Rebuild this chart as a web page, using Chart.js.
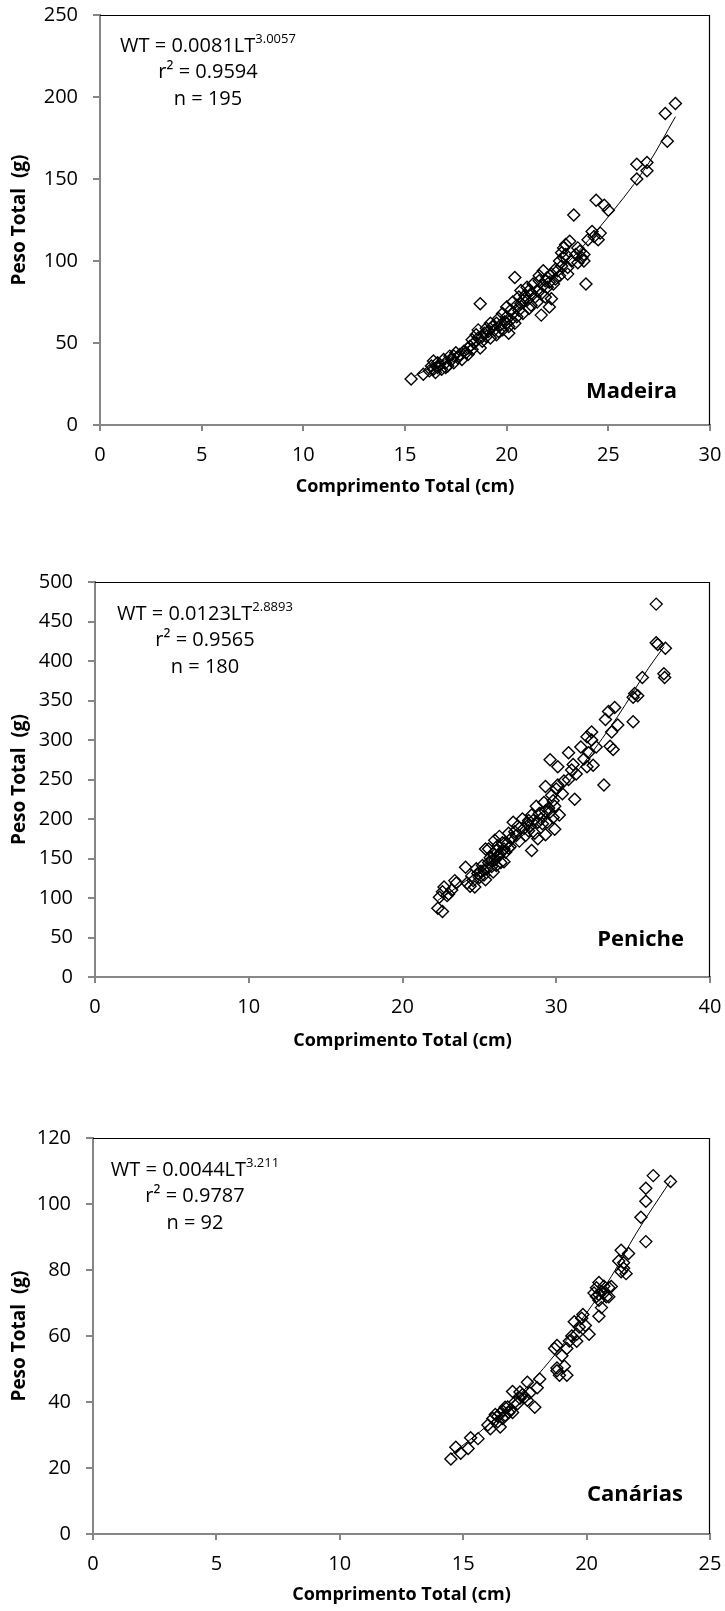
<!DOCTYPE html>
<html>
<head>
<meta charset="utf-8">
<script src="https://cdn.jsdelivr.net/npm/chart.js@4.4.1/dist/chart.umd.min.js"></script>
<style>
  html, body { margin: 0; padding: 0; background: #fff; }
  #wrap { position: relative; width: 725px; height: 1611px; }
  canvas { position: absolute; left: 0; }
</style>
</head>
<body>
<div id="wrap">
  <canvas id="c1" width="725" height="510" style="top:0px"></canvas>
  <canvas id="c2" width="725" height="556" style="top:510px"></canvas>
  <canvas id="c3" width="725" height="545" style="top:1066px"></canvas>
</div>
<script>
/* Dados: [comprimento total (cm), peso total (g)] */
const madeiraPoints = [
  [15.3,28],[15.9,31],[16.2,33],[16.3,36],[16.4,39],[16.4,34],[16.5,32],[16.6,35],[16.7,37],[16.8,34],
  [16.9,40],[17.0,38],[17.1,36],[17.2,42],[17.3,40],[17.4,38],[17.5,44],[17.6,41],[17.7,43],[17.8,40],
  [17.9,45],[18.0,44],[18.1,47],[18.2,48],[18.3,46],[18.3,52],[18.4,50],[18.5,55],[18.6,53],[18.6,58],
  [18.7,47],[18.7,74],[18.8,51],[18.9,56],[19.0,54],[19.0,59],[19.1,57],[19.2,53],[19.3,60],[19.4,58],
  [19.5,62],[19.5,55],[19.6,65],[19.7,61],[19.8,58],[19.8,68],[19.9,63],[20.0,66],[20.0,72],[20.1,56],
  [20.1,60],[20.2,70],[20.2,64],[20.3,75],[20.3,68],[20.4,90],[20.4,62],[20.5,73],[20.5,66],[20.6,78],
  [20.6,70],[20.7,82],[20.7,74],[20.8,68],[20.9,79],[21.0,76],[21.0,84],[21.1,71],[21.2,80],[21.2,73],
  [21.3,86],[21.4,78],[21.5,82],[21.5,75],[21.6,88],[21.6,91],[21.7,67],[21.7,80],[21.8,94],[21.8,85],
  [21.9,78],[22.0,90],[22.0,84],[22.1,87],[22.1,72],[22.2,77],[22.2,92],[22.3,86],[22.4,89],[22.5,94],
  [22.6,100],[22.6,91],[22.7,105],[22.7,97],[22.8,108],[22.8,102],[22.9,110],[23.0,96],[23.0,92],[23.1,112],
  [23.2,100],[23.3,128],[23.4,104],[23.5,99],[23.6,106],[23.7,102],[23.8,100],[23.9,86],[24.0,113],[24.2,118],
  [24.3,115],[24.4,137],[24.5,113],[24.6,117],[24.8,134],[25.0,131],[26.4,159],[26.4,150],[26.9,160],[26.9,155],
  [27.8,190],[27.9,173],[28.3,196],
  [16.6,38],[17.0,35],[17.4,42],[18.1,43],[18.8,54],[19.2,62],[19.6,57],[20.0,62],[20.8,76],[21.1,82],
  [21.9,88],[22.4,95],[22.9,104],[23.5,108],[23.8,104]
];
const madeiraTrend = [[15.5,30],[17,40],[19,55],[21,76],[23,99],[25,127],[27,160],[28.3,188]];

const penichePoints = [
  [22.3,87],[22.6,83],[22.4,101],[22.6,108],[22.7,114],[22.9,103],[23.2,110],[23.0,105],[23.5,119],[23.4,122],
  [24.1,139],[24.2,119],[24.4,115],[24.5,128],[24.6,122],[24.7,114],[24.8,137],[24.9,131],[25.0,126],[25.1,134],
  [25.2,141],[25.3,129],[25.4,123],[25.4,162],[25.5,137],[25.6,145],[25.6,162],[25.7,151],[25.8,140],[25.9,133],
  [25.9,156],[26.0,173],[26.0,148],[26.1,160],[26.2,166],[26.2,152],[26.3,155],[26.3,178],[26.4,145],[26.5,170],
  [26.6,146],[26.6,162],[26.7,158],[26.8,169],[26.9,182],[27.0,165],[27.1,176],[27.2,196],[27.3,184],[27.5,191],
  [27.6,172],[27.8,200],[27.9,188],[28.0,179],[28.1,194],[28.2,185],[28.3,191],[28.4,160],[28.4,205],[28.5,198],
  [28.6,182],[28.7,216],[28.8,175],[28.9,207],[29.0,200],[29.1,194],[29.2,221],[29.3,180],[29.3,210],[29.3,241],
  [29.4,196],[29.6,209],[29.6,275],[29.7,230],[29.8,223],[29.9,187],[29.9,216],[30.0,238],[30.1,243],[30.1,266],
  [30.2,205],[30.4,232],[30.5,248],[30.8,250],[30.8,284],[31.0,262],[31.1,269],[31.2,225],[31.3,257],[31.6,291],
  [31.8,276],[32.0,266],[32.0,304],[32.1,284],[32.3,300],[32.3,310],[32.4,268],[32.6,291],[33.1,243],[33.2,326],
  [33.4,336],[33.5,292],[33.6,310],[33.7,288],[33.8,341],[34.0,319],[35.0,323],[35.0,354],[35.1,359],[35.3,356],
  [35.6,379],[36.5,472],[36.5,423],[36.6,421],[37.0,384],[37.05,379],[37.1,416],
  [25.3,135],[25.8,147],[26.1,141],[26.4,158],[26.9,163],[27.4,179],[28.2,198],[28.8,196],[29.5,214],[29.8,202]
];
const penicheTrend = [[22.3,97],[24,120],[26,150],[28,186],[30,229],[32,276],[34,330],[36,391],[37,418]];

const canariasPoints = [
  [14.5,22.7],[14.7,26.3],[14.9,24.5],[15.2,25.9],[15.3,29.2],[15.6,28.9],[16.0,33],[16.1,31.9],[16.3,36.2],[16.4,35.7],
  [16.4,34],[16.5,32.4],[16.6,37.3],[16.7,38.4],[16.85,36.8],[17.0,43.2],[17.0,36.8],[17.1,40],[17.3,41.1],[17.4,42.2],
  [17.6,46],[17.6,40.5],[17.7,42.7],[17.9,38.4],[18.0,44.3],[18.1,47],[18.7,56.2],[18.8,57.1],[18.8,50.3],[18.9,48.1],
  [19.1,50.8],[19.0,54],[19.2,56.2],[19.2,48.1],[19.5,64.3],[19.6,60.5],[19.6,58.4],[19.7,62.7],[19.8,65.4],[19.85,66.5],
  [19.95,63.2],[20.1,60.5],[20.3,73],[20.4,74.6],[20.5,76.2],[20.5,70.8],[20.5,66],[20.6,68.6],[20.7,75.1],[20.8,71.9],
  [20.9,74.6],[20.9,71.9],[21.3,82.7],[21.4,86],[21.4,79.5],[21.5,82.2],[21.6,78.9],[21.7,85],[22.2,96],[22.4,100.8],
  [22.4,104.8],[22.7,108.6],[22.4,88.6],[23.4,106.8],
  [16.5,36.5],[16.6,35],[16.7,36],[16.8,38.5],[16.9,37.5],[17.2,39.5],[17.5,41.5],[17.3,43],[20.4,72],[20.6,73.5],
  [20.5,72.5],[20.7,73],[21.0,75],[19.4,60],[19.3,58.5],[18.8,49.5],[16.2,35],[21.5,80.5]
];
const canariasTrend = [[14.5,24],[16,33],[17,40],[18,48],[19,57],[20,67],[21,78],[22,91],[23.4,107]];

const FONT = "'Open Sans', 'Noto Sans', sans-serif";
const AXIS_GREY = '#868686';

/* Moldura preta + textos da equação e do local */
const framePlugin = {
  id: 'frame',
  beforeDatasetsDraw(chart, args, opts) {
    const a = chart.chartArea;
    const ctx = chart.ctx;
    ctx.save();
    ctx.strokeStyle = '#000';
    ctx.lineWidth = 1.2;
    ctx.beginPath();
    ctx.moveTo(a.left, a.top + 0.5);
    ctx.lineTo(a.right - 0.5, a.top + 0.5);
    ctx.lineTo(a.right - 0.5, a.bottom);
    ctx.stroke();
    ctx.restore();
  },
  afterDraw(chart, args, opts) {
    const a = chart.chartArea;
    const ctx = chart.ctx;
    ctx.save();
    ctx.fillStyle = '#000';
    ctx.textBaseline = 'middle';

    // linha 1: WT = a LT^b, com expoente
    const cx = a.left + opts.textDX;
    const y0 = a.top + opts.textDY;
    ctx.font = '20px ' + FONT;
    const wMain = ctx.measureText(opts.eq).width;
    ctx.font = '13px ' + FONT;
    const wSup = ctx.measureText(opts.exp).width;
    const x0 = cx - (wMain + wSup) / 2;
    ctx.textAlign = 'left';
    ctx.font = '20px ' + FONT;
    ctx.fillText(opts.eq, x0, y0);
    ctx.font = '13px ' + FONT;
    ctx.fillText(opts.exp, x0 + wMain, y0 - 7);

    ctx.textAlign = 'center';
    ctx.font = '20px ' + FONT;
    ctx.fillText(opts.r2, cx, y0 + 26);
    ctx.fillText(opts.n, cx, y0 + 53);

    // nome do local
    ctx.textAlign = 'right';
    ctx.font = 'bold 22px ' + FONT;
    ctx.fillText(opts.place, a.right - opts.placeDX, a.bottom - opts.placeDY);
    ctx.restore();
  }
};

/* sem margem automática das escalas: a área do gráfico fica onde a pomos */
function noScalePadding(scale) {
  scale.paddingTop = 0;
  scale.paddingBottom = 0;
  scale.paddingLeft = 0;
  scale.paddingRight = 0;
}

function makeChart(id, points, trend, cfg) {
  const ctx = document.getElementById(id).getContext('2d');
  return new Chart(ctx, {
    type: 'scatter',
    data: {
      datasets: [
        {
          data: points.map(p => ({ x: p[0], y: p[1] })),
          pointStyle: 'rectRot',
          pointRadius: 6,
          borderWidth: 1.4,
          borderColor: '#000',
          backgroundColor: 'rgba(0,0,0,0)'
        },
        {
          data: trend.map(p => ({ x: p[0], y: p[1] })),
          showLine: true,
          pointRadius: 0,
          borderWidth: 1,
          borderColor: '#000',
          cubicInterpolationMode: 'monotone'
        }
      ]
    },
    options: {
      responsive: false,
      animation: false,
      events: [],
      layout: { autoPadding: false, padding: { top: cfg.top, right: 15, left: 0, bottom: 0 } },
      plugins: {
        legend: { display: false },
        tooltip: { enabled: false },
        frame: cfg.text
      },
      scales: {
        x: {
          type: 'linear',
          min: 0, max: cfg.xMax,
          afterFit(scale) { scale.height = cfg.xh; noScalePadding(scale); },
          ticks: { stepSize: cfg.xStep, color: '#000', padding: 12, font: { family: FONT, size: 20 } },
          grid: { drawOnChartArea: false, drawTicks: true, tickLength: 6, color: AXIS_GREY, lineWidth: 2 },
          border: { color: AXIS_GREY, width: 2 },
          title: {
            display: true, text: 'Comprimento Total (cm)', color: '#000',
            font: { family: FONT, size: 18, weight: 'bold' },
            padding: { top: 0, bottom: cfg.titlePad }
          }
        },
        y: {
          type: 'linear',
          min: 0, max: cfg.yMax,
          afterFit(scale) { scale.width = cfg.left; noScalePadding(scale); },
          ticks: { stepSize: cfg.yStep, color: '#000', padding: 15, font: { family: FONT, size: 20 } },
          grid: { drawOnChartArea: false, drawTicks: true, tickLength: 7, color: AXIS_GREY, lineWidth: 2 },
          border: { color: AXIS_GREY, width: 2 },
          title: {
            display: true, text: 'Peso Total  (g)', color: '#000',
            font: { family: FONT, size: 19, weight: 'bold' },
            padding: { top: 8, bottom: 0 }
          }
        }
      }
    },
    plugins: [framePlugin]
  });
}

makeChart('c1', madeiraPoints, madeiraTrend, {
  top: 15, left: 100, xh: 85, titlePad: 12,
  xMax: 30, xStep: 5, yMax: 250, yStep: 50,
  text: { eq: 'WT = 0.0081LT', exp: '3.0057', r2: 'r² = 0.9594', n: 'n = 195',
          textDX: 108, textDY: 31, place: 'Madeira', placeDX: 33, placeDY: 33 }
});

makeChart('c2', penichePoints, penicheTrend, {
  top: 72, left: 95, xh: 89, titlePad: 14,
  xMax: 40, xStep: 10, yMax: 500, yStep: 50,
  text: { eq: 'WT = 0.0123LT', exp: '2.8893', r2: 'r² = 0.9565', n: 'n = 180',
          textDX: 110, textDY: 32, place: 'Peniche', placeDX: 26, placeDY: 37 }
});

makeChart('c3', canariasPoints, canariasTrend, {
  top: 72, left: 93, xh: 77, titlePad: 5,
  xMax: 25, xStep: 5, yMax: 120, yStep: 20,
  text: { eq: 'WT = 0.0044LT', exp: '3.211', r2: 'r² = 0.9787', n: 'n = 92',
          textDX: 102, textDY: 32, place: 'Canárias', placeDX: 27, placeDY: 39 }
});
</script>
</body>
</html>
